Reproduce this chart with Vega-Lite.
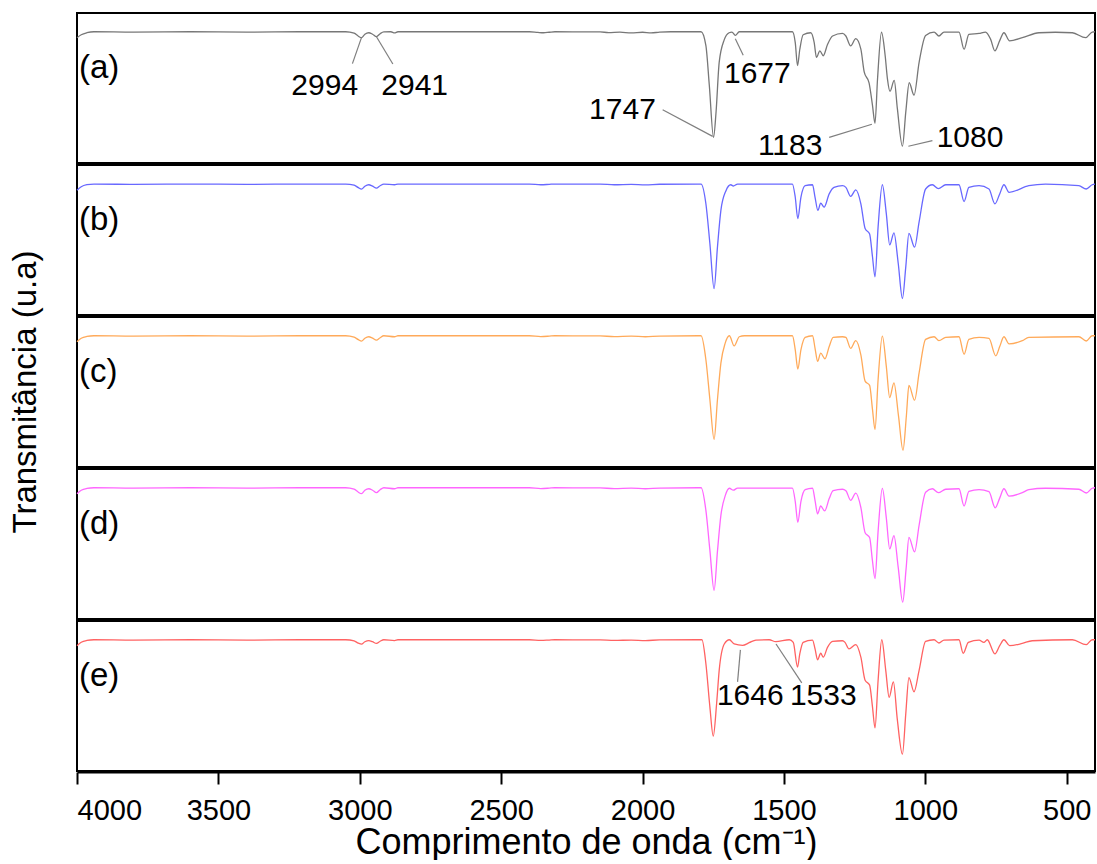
{
  "$schema": "https://vega.github.io/schema/vega-lite/v6.json",
  "background": "white",
  "padding": {"left": 9, "top": 12, "right": 0, "bottom": 0},
  "spacing": 0,
  "data": {"values": [
    {"s":"a","k":"sp","w":4000,"t":127},{"s":"a","k":"sp","w":3985,"t":130},{"s":"a","k":"sp","w":3965,"t":132},{"s":"a","k":"sp","w":3940,"t":133},{"s":"a","k":"sp","w":3800,"t":132.6},{"s":"a","k":"sp","w":3600,"t":133},{"s":"a","k":"sp","w":3400,"t":132.6},{"s":"a","k":"sp","w":3200,"t":133},{"s":"a","k":"sp","w":3050,"t":133},{"s":"a","k":"sp","w":3020,"t":131.5},{"s":"a","k":"sp","w":3005,"t":128.5},{"s":"a","k":"sp","w":2994,"t":127},{"s":"a","k":"sp","w":2982,"t":130.5},{"s":"a","k":"sp","w":2968,"t":132},{"s":"a","k":"sp","w":2955,"t":130.5},{"s":"a","k":"sp","w":2941,"t":128},{"s":"a","k":"sp","w":2928,"t":131},{"s":"a","k":"sp","w":2915,"t":132.8},{"s":"a","k":"sp","w":2890,"t":133},{"s":"a","k":"sp","w":2877,"t":131.8},{"s":"a","k":"sp","w":2865,"t":133},{"s":"a","k":"sp","w":2400,"t":133},{"s":"a","k":"sp","w":2370,"t":132.3},{"s":"a","k":"sp","w":2350,"t":132},{"s":"a","k":"sp","w":2330,"t":132.5},{"s":"a","k":"sp","w":2310,"t":133},{"s":"a","k":"sp","w":2150,"t":132.8},{"s":"a","k":"sp","w":2120,"t":132.2},{"s":"a","k":"sp","w":2080,"t":132.6},{"s":"a","k":"sp","w":2040,"t":131.8},{"s":"a","k":"sp","w":2000,"t":132.5},{"s":"a","k":"sp","w":1970,"t":131.8},{"s":"a","k":"sp","w":1940,"t":132.6},{"s":"a","k":"sp","w":1900,"t":133},{"s":"a","k":"sp","w":1800,"t":133},
    {"s":"a","k":"sp","w":1793,"t":133},{"s":"a","k":"sp","w":1776,"t":119},{"s":"a","k":"sp","w":1764,"t":79},{"s":"a","k":"sp","w":1749,"t":26},{"s":"a","k":"sp","w":1740,"t":52},{"s":"a","k":"sp","w":1729,"t":102},{"s":"a","k":"sp","w":1711,"t":125},{"s":"a","k":"sp","w":1694,"t":132},{"s":"a","k":"sp","w":1684,"t":132.7},{"s":"a","k":"sp","w":1672,"t":129.3},{"s":"a","k":"sp","w":1658,"t":133},{"s":"a","k":"sp","w":1470,"t":133},{"s":"a","k":"sp","w":1460,"t":122},{"s":"a","k":"sp","w":1452,"t":98.7},{"s":"a","k":"sp","w":1444,"t":115},{"s":"a","k":"sp","w":1432,"t":130},{"s":"a","k":"sp","w":1405,"t":132},{"s":"a","k":"sp","w":1393,"t":122},{"s":"a","k":"sp","w":1385,"t":107},{"s":"a","k":"sp","w":1373,"t":113.7},{"s":"a","k":"sp","w":1361,"t":108.7},{"s":"a","k":"sp","w":1346,"t":120},{"s":"a","k":"sp","w":1328,"t":128.7},{"s":"a","k":"sp","w":1293,"t":131.3},{"s":"a","k":"sp","w":1281,"t":128.7},{"s":"a","k":"sp","w":1264,"t":118.7},{"s":"a","k":"sp","w":1246,"t":126},{"s":"a","k":"sp","w":1228,"t":115.3},{"s":"a","k":"sp","w":1216,"t":92},{"s":"a","k":"sp","w":1199,"t":81.3},{"s":"a","k":"sp","w":1187,"t":58.7},{"s":"a","k":"sp","w":1178,"t":40.3},{"s":"a","k":"sp","w":1169,"t":85.3},{"s":"a","k":"sp","w":1155,"t":132.5},{"s":"a","k":"sp","w":1142,"t":108.7},{"s":"a","k":"sp","w":1134,"t":85.3},{"s":"a","k":"sp","w":1125,"t":72.7},{"s":"a","k":"sp","w":1110,"t":83.7},{"s":"a","k":"sp","w":1099,"t":55.3},{"s":"a","k":"sp","w":1081,"t":17},{"s":"a","k":"sp","w":1069,"t":52},{"s":"a","k":"sp","w":1057,"t":81.3},{"s":"a","k":"sp","w":1040,"t":68.7},{"s":"a","k":"sp","w":1022,"t":102},{"s":"a","k":"sp","w":999,"t":129.3},{"s":"a","k":"sp","w":969,"t":132.7},{"s":"a","k":"sp","w":952,"t":128.7},{"s":"a","k":"sp","w":934,"t":132.7},{"s":"a","k":"sp","w":881,"t":132.7},{"s":"a","k":"sp","w":863,"t":115.3},{"s":"a","k":"sp","w":846,"t":130.3},{"s":"a","k":"sp","w":810,"t":131.3},{"s":"a","k":"sp","w":787,"t":132.7},{"s":"a","k":"sp","w":769,"t":125.3},{"s":"a","k":"sp","w":754,"t":113.7},{"s":"a","k":"sp","w":737,"t":124},{"s":"a","k":"sp","w":722,"t":132},{"s":"a","k":"sp","w":702,"t":123.7},{"s":"a","k":"sp","w":657,"t":127},{"s":"a","k":"sp","w":598,"t":132},{"s":"a","k":"sp","w":540,"t":132.5},{"s":"a","k":"sp","w":480,"t":132},{"s":"a","k":"sp","w":433,"t":127},{"s":"a","k":"sp","w":410,"t":132.7},{"s":"a","k":"sp","w":400,"t":133},

    {"s":"b","k":"sp","w":4000,"t":126.5},{"s":"b","k":"sp","w":3985,"t":130},{"s":"b","k":"sp","w":3965,"t":132},{"s":"b","k":"sp","w":3940,"t":132.7},{"s":"b","k":"sp","w":3800,"t":132.4},{"s":"b","k":"sp","w":3600,"t":132.7},{"s":"b","k":"sp","w":3400,"t":132.4},{"s":"b","k":"sp","w":3200,"t":132.7},{"s":"b","k":"sp","w":3050,"t":132.7},{"s":"b","k":"sp","w":3020,"t":131.5},{"s":"b","k":"sp","w":3005,"t":129},{"s":"b","k":"sp","w":2994,"t":127.5},{"s":"b","k":"sp","w":2982,"t":130.5},{"s":"b","k":"sp","w":2968,"t":132},{"s":"b","k":"sp","w":2955,"t":130.5},{"s":"b","k":"sp","w":2941,"t":128.5},{"s":"b","k":"sp","w":2928,"t":131},{"s":"b","k":"sp","w":2915,"t":132.7},{"s":"b","k":"sp","w":2877,"t":132},{"s":"b","k":"sp","w":2865,"t":132.7},{"s":"b","k":"sp","w":2400,"t":132.7},{"s":"b","k":"sp","w":2360,"t":132},{"s":"b","k":"sp","w":2330,"t":132.4},{"s":"b","k":"sp","w":2310,"t":132.7},{"s":"b","k":"sp","w":2150,"t":132.6},{"s":"b","k":"sp","w":2100,"t":132},{"s":"b","k":"sp","w":2040,"t":132.4},{"s":"b","k":"sp","w":1990,"t":131.8},{"s":"b","k":"sp","w":1940,"t":132.5},{"s":"b","k":"sp","w":1800,"t":132.7},
    {"s":"b","k":"sp","w":1793,"t":132.7},{"s":"b","k":"sp","w":1776,"t":112.7},{"s":"b","k":"sp","w":1762,"t":72.7},{"s":"b","k":"sp","w":1747,"t":26.7},{"s":"b","k":"sp","w":1735,"t":69.3},{"s":"b","k":"sp","w":1723,"t":106},{"s":"b","k":"sp","w":1705,"t":126},{"s":"b","k":"sp","w":1688,"t":132},{"s":"b","k":"sp","w":1679,"t":130.7},{"s":"b","k":"sp","w":1664,"t":132.7},{"s":"b","k":"sp","w":1470,"t":132.7},{"s":"b","k":"sp","w":1460,"t":119.3},{"s":"b","k":"sp","w":1451,"t":97.7},{"s":"b","k":"sp","w":1440,"t":119.3},{"s":"b","k":"sp","w":1425,"t":131},{"s":"b","k":"sp","w":1399,"t":132},{"s":"b","k":"sp","w":1390,"t":119.3},{"s":"b","k":"sp","w":1380,"t":106},{"s":"b","k":"sp","w":1370,"t":113.3},{"s":"b","k":"sp","w":1358,"t":109.3},{"s":"b","k":"sp","w":1340,"t":122.7},{"s":"b","k":"sp","w":1323,"t":129.3},{"s":"b","k":"sp","w":1293,"t":131},{"s":"b","k":"sp","w":1281,"t":129.3},{"s":"b","k":"sp","w":1264,"t":120.3},{"s":"b","k":"sp","w":1246,"t":126.7},{"s":"b","k":"sp","w":1228,"t":112.7},{"s":"b","k":"sp","w":1213,"t":87.7},{"s":"b","k":"sp","w":1197,"t":82},{"s":"b","k":"sp","w":1187,"t":59.3},{"s":"b","k":"sp","w":1178,"t":38.7},{"s":"b","k":"sp","w":1167,"t":89.3},{"s":"b","k":"sp","w":1152,"t":132},{"s":"b","k":"sp","w":1138,"t":102.7},{"s":"b","k":"sp","w":1126,"t":71},{"s":"b","k":"sp","w":1111,"t":83.3},{"s":"b","k":"sp","w":1096,"t":52.7},{"s":"b","k":"sp","w":1081,"t":16.7},{"s":"b","k":"sp","w":1069,"t":49.3},{"s":"b","k":"sp","w":1058,"t":82.7},{"s":"b","k":"sp","w":1038,"t":68.7},{"s":"b","k":"sp","w":1022,"t":94.3},{"s":"b","k":"sp","w":999,"t":127.7},{"s":"b","k":"sp","w":975,"t":132},{"s":"b","k":"sp","w":954,"t":128},{"s":"b","k":"sp","w":928,"t":132},{"s":"b","k":"sp","w":881,"t":132},{"s":"b","k":"sp","w":863,"t":115},{"s":"b","k":"sp","w":846,"t":129.3},{"s":"b","k":"sp","w":810,"t":131},{"s":"b","k":"sp","w":775,"t":127.7},{"s":"b","k":"sp","w":754,"t":112.7},{"s":"b","k":"sp","w":737,"t":122.7},{"s":"b","k":"sp","w":722,"t":132},{"s":"b","k":"sp","w":704,"t":124.3},{"s":"b","k":"sp","w":634,"t":131},{"s":"b","k":"sp","w":575,"t":132.7},{"s":"b","k":"sp","w":457,"t":131},{"s":"b","k":"sp","w":431,"t":127.7},{"s":"b","k":"sp","w":410,"t":132},{"s":"b","k":"sp","w":400,"t":132.7},

    {"s":"c","k":"sp","w":4000,"t":127},{"s":"c","k":"sp","w":3985,"t":130.5},{"s":"c","k":"sp","w":3965,"t":132.3},{"s":"c","k":"sp","w":3940,"t":133},{"s":"c","k":"sp","w":3800,"t":132.6},{"s":"c","k":"sp","w":3600,"t":133},{"s":"c","k":"sp","w":3400,"t":132.6},{"s":"c","k":"sp","w":3200,"t":133},{"s":"c","k":"sp","w":3050,"t":133},{"s":"c","k":"sp","w":3020,"t":131.5},{"s":"c","k":"sp","w":3005,"t":129},{"s":"c","k":"sp","w":2994,"t":127.5},{"s":"c","k":"sp","w":2982,"t":130.5},{"s":"c","k":"sp","w":2968,"t":132},{"s":"c","k":"sp","w":2955,"t":130.5},{"s":"c","k":"sp","w":2941,"t":128.5},{"s":"c","k":"sp","w":2928,"t":131},{"s":"c","k":"sp","w":2915,"t":133},{"s":"c","k":"sp","w":2877,"t":132},{"s":"c","k":"sp","w":2865,"t":133},{"s":"c","k":"sp","w":2400,"t":133},{"s":"c","k":"sp","w":2360,"t":132.2},{"s":"c","k":"sp","w":2330,"t":132.6},{"s":"c","k":"sp","w":2310,"t":133},{"s":"c","k":"sp","w":2150,"t":132.8},{"s":"c","k":"sp","w":2100,"t":132.2},{"s":"c","k":"sp","w":2040,"t":132.6},{"s":"c","k":"sp","w":1990,"t":132},{"s":"c","k":"sp","w":1940,"t":132.7},{"s":"c","k":"sp","w":1800,"t":133},
    {"s":"c","k":"sp","w":1793,"t":133},{"s":"c","k":"sp","w":1776,"t":108.7},{"s":"c","k":"sp","w":1762,"t":68.7},{"s":"c","k":"sp","w":1747,"t":28},{"s":"c","k":"sp","w":1735,"t":68.7},{"s":"c","k":"sp","w":1723,"t":105.3},{"s":"c","k":"sp","w":1708,"t":125.3},{"s":"c","k":"sp","w":1693,"t":133},{"s":"c","k":"sp","w":1676,"t":122.7},{"s":"c","k":"sp","w":1658,"t":132},{"s":"c","k":"sp","w":1640,"t":133},{"s":"c","k":"sp","w":1470,"t":133},{"s":"c","k":"sp","w":1460,"t":118.7},{"s":"c","k":"sp","w":1451,"t":99.3},{"s":"c","k":"sp","w":1440,"t":118.7},{"s":"c","k":"sp","w":1425,"t":131.3},{"s":"c","k":"sp","w":1399,"t":133},{"s":"c","k":"sp","w":1390,"t":120.3},{"s":"c","k":"sp","w":1381,"t":107},{"s":"c","k":"sp","w":1370,"t":115.3},{"s":"c","k":"sp","w":1355,"t":109.7},{"s":"c","k":"sp","w":1340,"t":122},{"s":"c","k":"sp","w":1326,"t":131.3},{"s":"c","k":"sp","w":1293,"t":132},{"s":"c","k":"sp","w":1281,"t":131.3},{"s":"c","k":"sp","w":1264,"t":120.3},{"s":"c","k":"sp","w":1246,"t":128},{"s":"c","k":"sp","w":1228,"t":113.7},{"s":"c","k":"sp","w":1213,"t":87},{"s":"c","k":"sp","w":1197,"t":82.7},{"s":"c","k":"sp","w":1187,"t":58.7},{"s":"c","k":"sp","w":1178,"t":38},{"s":"c","k":"sp","w":1167,"t":88.7},{"s":"c","k":"sp","w":1152,"t":132.7},{"s":"c","k":"sp","w":1138,"t":102},{"s":"c","k":"sp","w":1126,"t":70.3},{"s":"c","k":"sp","w":1111,"t":85.3},{"s":"c","k":"sp","w":1095,"t":52},{"s":"c","k":"sp","w":1079,"t":17},{"s":"c","k":"sp","w":1067,"t":52},{"s":"c","k":"sp","w":1058,"t":82.7},{"s":"c","k":"sp","w":1038,"t":67.7},{"s":"c","k":"sp","w":1022,"t":95.3},{"s":"c","k":"sp","w":999,"t":129.3},{"s":"c","k":"sp","w":969,"t":132},{"s":"c","k":"sp","w":952,"t":128},{"s":"c","k":"sp","w":928,"t":131.3},{"s":"c","k":"sp","w":881,"t":132},{"s":"c","k":"sp","w":863,"t":114.3},{"s":"c","k":"sp","w":846,"t":129.3},{"s":"c","k":"sp","w":810,"t":131.3},{"s":"c","k":"sp","w":775,"t":130.3},{"s":"c","k":"sp","w":751,"t":112.7},{"s":"c","k":"sp","w":737,"t":122},{"s":"c","k":"sp","w":722,"t":132},{"s":"c","k":"sp","w":704,"t":124.7},{"s":"c","k":"sp","w":657,"t":128},{"s":"c","k":"sp","w":634,"t":131.3},{"s":"c","k":"sp","w":457,"t":132},{"s":"c","k":"sp","w":431,"t":127.7},{"s":"c","k":"sp","w":410,"t":133},{"s":"c","k":"sp","w":400,"t":133},

    {"s":"d","k":"sp","w":4000,"t":127},{"s":"d","k":"sp","w":3985,"t":130.5},{"s":"d","k":"sp","w":3965,"t":132.3},{"s":"d","k":"sp","w":3940,"t":133},{"s":"d","k":"sp","w":3800,"t":132.6},{"s":"d","k":"sp","w":3600,"t":133},{"s":"d","k":"sp","w":3400,"t":132.6},{"s":"d","k":"sp","w":3200,"t":133},{"s":"d","k":"sp","w":3050,"t":133},{"s":"d","k":"sp","w":3020,"t":131.5},{"s":"d","k":"sp","w":3005,"t":128.5},{"s":"d","k":"sp","w":2994,"t":127},{"s":"d","k":"sp","w":2982,"t":130.5},{"s":"d","k":"sp","w":2968,"t":132},{"s":"d","k":"sp","w":2955,"t":130.5},{"s":"d","k":"sp","w":2941,"t":128},{"s":"d","k":"sp","w":2928,"t":131},{"s":"d","k":"sp","w":2915,"t":133},{"s":"d","k":"sp","w":2877,"t":132},{"s":"d","k":"sp","w":2865,"t":133},{"s":"d","k":"sp","w":2400,"t":133},{"s":"d","k":"sp","w":2360,"t":132.2},{"s":"d","k":"sp","w":2330,"t":132.6},{"s":"d","k":"sp","w":2310,"t":133},{"s":"d","k":"sp","w":2150,"t":132.8},{"s":"d","k":"sp","w":2100,"t":132.2},{"s":"d","k":"sp","w":2040,"t":132.6},{"s":"d","k":"sp","w":1990,"t":132},{"s":"d","k":"sp","w":1940,"t":132.7},{"s":"d","k":"sp","w":1800,"t":133},
    {"s":"d","k":"sp","w":1793,"t":133},{"s":"d","k":"sp","w":1776,"t":110},{"s":"d","k":"sp","w":1762,"t":70},{"s":"d","k":"sp","w":1747,"t":29},{"s":"d","k":"sp","w":1735,"t":69},{"s":"d","k":"sp","w":1723,"t":105},{"s":"d","k":"sp","w":1707,"t":125.5},{"s":"d","k":"sp","w":1693,"t":132.5},{"s":"d","k":"sp","w":1679,"t":130.5},{"s":"d","k":"sp","w":1664,"t":132.7},{"s":"d","k":"sp","w":1470,"t":132.7},{"s":"d","k":"sp","w":1460,"t":119},{"s":"d","k":"sp","w":1451,"t":98},{"s":"d","k":"sp","w":1440,"t":119},{"s":"d","k":"sp","w":1425,"t":131},{"s":"d","k":"sp","w":1399,"t":132.5},{"s":"d","k":"sp","w":1390,"t":120},{"s":"d","k":"sp","w":1381,"t":106.5},{"s":"d","k":"sp","w":1370,"t":114.5},{"s":"d","k":"sp","w":1356,"t":109.5},{"s":"d","k":"sp","w":1340,"t":122},{"s":"d","k":"sp","w":1326,"t":130},{"s":"d","k":"sp","w":1293,"t":131.5},{"s":"d","k":"sp","w":1281,"t":130},{"s":"d","k":"sp","w":1264,"t":120.3},{"s":"d","k":"sp","w":1246,"t":127.5},{"s":"d","k":"sp","w":1228,"t":113},{"s":"d","k":"sp","w":1213,"t":87.5},{"s":"d","k":"sp","w":1197,"t":82.5},{"s":"d","k":"sp","w":1187,"t":59},{"s":"d","k":"sp","w":1178,"t":41},{"s":"d","k":"sp","w":1167,"t":89},{"s":"d","k":"sp","w":1152,"t":132.3},{"s":"d","k":"sp","w":1138,"t":102.5},{"s":"d","k":"sp","w":1126,"t":71},{"s":"d","k":"sp","w":1111,"t":84.5},{"s":"d","k":"sp","w":1096,"t":52.5},{"s":"d","k":"sp","w":1080,"t":17},{"s":"d","k":"sp","w":1068,"t":51},{"s":"d","k":"sp","w":1058,"t":82.7},{"s":"d","k":"sp","w":1038,"t":68},{"s":"d","k":"sp","w":1022,"t":95},{"s":"d","k":"sp","w":999,"t":128.5},{"s":"d","k":"sp","w":975,"t":132},{"s":"d","k":"sp","w":954,"t":128},{"s":"d","k":"sp","w":928,"t":131.5},{"s":"d","k":"sp","w":881,"t":132},{"s":"d","k":"sp","w":863,"t":114.5},{"s":"d","k":"sp","w":846,"t":129.3},{"s":"d","k":"sp","w":810,"t":131},{"s":"d","k":"sp","w":775,"t":129},{"s":"d","k":"sp","w":753,"t":112.7},{"s":"d","k":"sp","w":737,"t":122.5},{"s":"d","k":"sp","w":722,"t":132},{"s":"d","k":"sp","w":704,"t":124.5},{"s":"d","k":"sp","w":657,"t":128},{"s":"d","k":"sp","w":634,"t":131},{"s":"d","k":"sp","w":575,"t":132.5},{"s":"d","k":"sp","w":457,"t":131.5},{"s":"d","k":"sp","w":431,"t":127.7},{"s":"d","k":"sp","w":410,"t":132.5},{"s":"d","k":"sp","w":400,"t":133},

    {"s":"e","k":"sp","w":4000,"t":127},{"s":"e","k":"sp","w":3985,"t":130.5},{"s":"e","k":"sp","w":3965,"t":132.3},{"s":"e","k":"sp","w":3940,"t":133},{"s":"e","k":"sp","w":3800,"t":132.6},{"s":"e","k":"sp","w":3600,"t":133},{"s":"e","k":"sp","w":3400,"t":132.6},{"s":"e","k":"sp","w":3200,"t":133},{"s":"e","k":"sp","w":3050,"t":133},{"s":"e","k":"sp","w":3020,"t":131.8},{"s":"e","k":"sp","w":3005,"t":129.5},{"s":"e","k":"sp","w":2994,"t":128.5},{"s":"e","k":"sp","w":2982,"t":131},{"s":"e","k":"sp","w":2968,"t":132.2},{"s":"e","k":"sp","w":2955,"t":131},{"s":"e","k":"sp","w":2941,"t":129.3},{"s":"e","k":"sp","w":2928,"t":131.5},{"s":"e","k":"sp","w":2915,"t":133},{"s":"e","k":"sp","w":2877,"t":132.2},{"s":"e","k":"sp","w":2865,"t":133},{"s":"e","k":"sp","w":2400,"t":133},{"s":"e","k":"sp","w":2360,"t":132.3},{"s":"e","k":"sp","w":2330,"t":132.7},{"s":"e","k":"sp","w":2310,"t":133},{"s":"e","k":"sp","w":2150,"t":132.8},{"s":"e","k":"sp","w":2100,"t":132.3},{"s":"e","k":"sp","w":2040,"t":132.7},{"s":"e","k":"sp","w":1990,"t":132.2},{"s":"e","k":"sp","w":1940,"t":132.8},{"s":"e","k":"sp","w":1800,"t":133},
    {"s":"e","k":"sp","w":1790,"t":133},{"s":"e","k":"sp","w":1776,"t":108.7},{"s":"e","k":"sp","w":1762,"t":65.3},{"s":"e","k":"sp","w":1750,"t":35.3},{"s":"e","k":"sp","w":1738,"t":68.7},{"s":"e","k":"sp","w":1729,"t":102},{"s":"e","k":"sp","w":1711,"t":128.7},{"s":"e","k":"sp","w":1693,"t":133},{"s":"e","k":"sp","w":1676,"t":128.7},{"s":"e","k":"sp","w":1646,"t":127.3},{"s":"e","k":"sp","w":1623,"t":130},{"s":"e","k":"sp","w":1599,"t":132.7},{"s":"e","k":"sp","w":1552,"t":133},{"s":"e","k":"sp","w":1529,"t":131},{"s":"e","k":"sp","w":1481,"t":133},{"s":"e","k":"sp","w":1467,"t":130.3},{"s":"e","k":"sp","w":1452,"t":105.3},{"s":"e","k":"sp","w":1444,"t":118.7},{"s":"e","k":"sp","w":1432,"t":130.3},{"s":"e","k":"sp","w":1399,"t":132.7},{"s":"e","k":"sp","w":1390,"t":123.7},{"s":"e","k":"sp","w":1381,"t":112.7},{"s":"e","k":"sp","w":1370,"t":119.3},{"s":"e","k":"sp","w":1361,"t":115.3},{"s":"e","k":"sp","w":1346,"t":125.3},{"s":"e","k":"sp","w":1328,"t":131.3},{"s":"e","k":"sp","w":1293,"t":132},{"s":"e","k":"sp","w":1284,"t":130.3},{"s":"e","k":"sp","w":1270,"t":123.7},{"s":"e","k":"sp","w":1246,"t":128},{"s":"e","k":"sp","w":1228,"t":115.3},{"s":"e","k":"sp","w":1213,"t":92},{"s":"e","k":"sp","w":1197,"t":87},{"s":"e","k":"sp","w":1187,"t":65.3},{"s":"e","k":"sp","w":1178,"t":43.7},{"s":"e","k":"sp","w":1167,"t":92},{"s":"e","k":"sp","w":1154,"t":133},{"s":"e","k":"sp","w":1140,"t":102},{"s":"e","k":"sp","w":1128,"t":74.7},{"s":"e","k":"sp","w":1113,"t":90.3},{"s":"e","k":"sp","w":1099,"t":52},{"s":"e","k":"sp","w":1081,"t":17},{"s":"e","k":"sp","w":1069,"t":58.7},{"s":"e","k":"sp","w":1058,"t":94.7},{"s":"e","k":"sp","w":1040,"t":80.3},{"s":"e","k":"sp","w":1022,"t":102},{"s":"e","k":"sp","w":999,"t":131.3},{"s":"e","k":"sp","w":969,"t":133},{"s":"e","k":"sp","w":952,"t":129.7},{"s":"e","k":"sp","w":934,"t":132.7},{"s":"e","k":"sp","w":881,"t":133},{"s":"e","k":"sp","w":866,"t":119.3},{"s":"e","k":"sp","w":848,"t":130.3},{"s":"e","k":"sp","w":810,"t":132.7},{"s":"e","k":"sp","w":793,"t":130.3},{"s":"e","k":"sp","w":781,"t":133},{"s":"e","k":"sp","w":754,"t":118.7},{"s":"e","k":"sp","w":737,"t":127},{"s":"e","k":"sp","w":722,"t":133},{"s":"e","k":"sp","w":702,"t":127},{"s":"e","k":"sp","w":657,"t":129.3},{"s":"e","k":"sp","w":622,"t":132},{"s":"e","k":"sp","w":480,"t":133},{"s":"e","k":"sp","w":431,"t":128},{"s":"e","k":"sp","w":410,"t":133},{"s":"e","k":"sp","w":400,"t":133},

    {"s":"a","k":"pl","w":3993,"t":96,"txt":"(a)"},{"s":"b","k":"pl","w":3993,"t":96,"txt":"(b)"},{"s":"c","k":"pl","w":3993,"t":96,"txt":"(c)"},{"s":"d","k":"pl","w":3993,"t":96,"txt":"(d)"},{"s":"e","k":"pl","w":3993,"t":96,"txt":"(e)"},

    {"s":"a","k":"lbl","w":3124,"t":78,"txt":"2994"},{"s":"a","k":"lbl","w":2806,"t":78,"txt":"2941"},{"s":"a","k":"lbl","w":1594,"t":90,"txt":"1677"},{"s":"a","k":"lbl","w":2071,"t":54,"txt":"1747"},{"s":"a","k":"lbl","w":1478,"t":17,"txt":"1183"},{"s":"a","k":"lbl","w":842,"t":25,"txt":"1080"},{"s":"e","k":"lbl","w":1619,"t":76,"txt":"1646"},{"s":"e","k":"lbl","w":1361,"t":76,"txt":"1533"},

    {"s":"a","k":"ld","w":2994,"t":127,"w2":3026,"t2":100.7},{"s":"a","k":"ld","w":2941,"t":128,"w2":2883,"t2":100.3},{"s":"a","k":"ld","w":1672,"t":126,"w2":1644,"t2":109.3},{"s":"a","k":"ld","w":1929,"t":54,"w2":1752,"t2":27},{"s":"a","k":"ld","w":1340,"t":26,"w2":1189,"t2":39.3},{"s":"a","k":"ld","w":1060,"t":17,"w2":975,"t2":22.7},{"s":"e","k":"ld","w":1654,"t":122.7,"w2":1664,"t2":90.3},{"s":"e","k":"ld","w":1528,"t":128.7,"w2":1437,"t2":89.3}
  ]},
  "facet": {"row": {"field": "s", "type": "nominal", "title": "Transmitância (u.a)",
    "header": {"labels": false, "titleFont": "Liberation Sans", "titleFontSize": 33, "titleFontWeight": "normal", "titleColor": "black", "titlePadding": 20}}},
  "spec": {
    "width": 1018,
    "height": 150,
    "encoding": {
      "x": {"field": "w", "type": "quantitative",
        "scale": {"domain": [400, 4000], "reverse": true, "nice": false, "zero": false},
        "axis": {"values": [4000, 3500, 3000, 2500, 2000, 1500, 1000, 500], "format": "d", "grid": false, "tickSize": 12, "tickWidth": 2, "tickColor": "black", "domainColor": "black", "domainWidth": 2, "labelFont": "Liberation Sans", "labelFontSize": 29, "labelColor": "black", "labelPadding": 12, "title": "Comprimento de onda (cm⁻¹)", "titleFont": "Liberation Sans", "titleFontSize": 36, "titleFontWeight": "normal", "titleColor": "black", "titlePadding": 0}},
      "y": {"field": "t", "type": "quantitative", "scale": {"domain": [0, 152], "nice": false, "zero": false}, "axis": null}
    },
    "layer": [
      {"transform": [{"filter": "datum.k == 'sp'"}],
       "mark": {"type": "line", "interpolate": "monotone", "strokeWidth": 1.3},
       "encoding": {"color": {"field": "s", "type": "nominal", "legend": null,
         "scale": {"domain": ["a", "b", "c", "d", "e"], "range": ["#777777", "#6868ff", "#ffaa5a", "#ff66ff", "#ff6262"]}}}},
      {"transform": [{"filter": "datum.k == 'ld'"}],
       "mark": {"type": "rule", "color": "#7f7f7f", "strokeWidth": 1.2},
       "encoding": {"x2": {"field": "w2"}, "y2": {"field": "t2"}}},
      {"transform": [{"filter": "datum.k == 'lbl'"}],
       "mark": {"type": "text", "font": "Liberation Sans", "fontSize": 30, "align": "center", "baseline": "middle", "color": "black"},
       "encoding": {"text": {"field": "txt"}}},
      {"transform": [{"filter": "datum.k == 'pl'"}],
       "mark": {"type": "text", "font": "Liberation Sans", "fontSize": 33, "align": "left", "baseline": "middle", "color": "black"},
       "encoding": {"text": {"field": "txt"}}}
    ]
  },
  "config": {"view": {"stroke": "black", "strokeWidth": 2}}
}
